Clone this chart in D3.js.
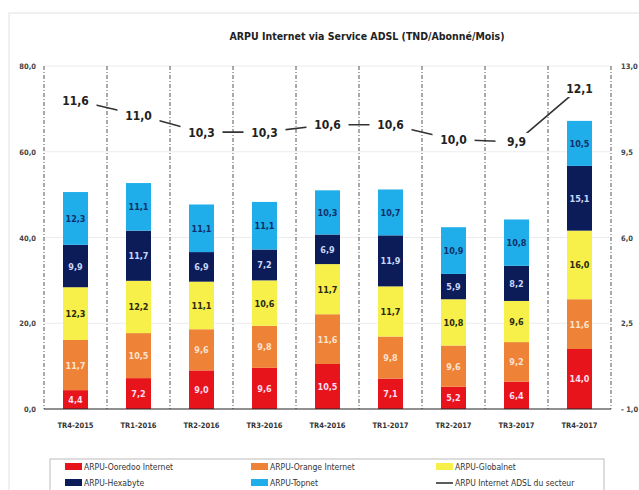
<!DOCTYPE html>
<html>
<head>
<meta charset="utf-8">
<script src="https://cdn.jsdelivr.net/npm/d3@7"></script>
<style>
  body { margin: 0; background: #fff; }
  svg text { font-family: "Liberation Sans Narrow", "DejaVu Sans Condensed", "Liberation Sans", sans-serif; }
</style>
</head>
<body>
<div id="chart"></div>
<script>
// Quarters
const quarters = ["TR4-2015", "TR1-2016", "TR2-2016", "TR3-2016", "TR4-2016",
  "TR1-2017", "TR2-2017", "TR3-2017", "TR4-2017"];

// Stacked series (bottom to top)
const ooredoo   = [4.4, 7.2, 9.0, 9.6, 10.5, 7.1, 5.2, 6.4, 14.0];
const orange    = [11.7, 10.5, 9.6, 9.8, 11.6, 9.8, 9.6, 9.2, 11.6];
const globalnet = [12.3, 12.2, 11.1, 10.6, 11.7, 11.7, 10.8, 9.6, 16.0];
const hexabyte  = [9.9, 11.7, 6.9, 7.2, 6.9, 11.9, 5.9, 8.2, 15.1];
const topnet    = [12.3, 11.1, 11.1, 11.1, 10.3, 10.7, 10.9, 10.8, 10.5];

// Line series (right axis)
const secteur = [11.6, 11.0, 10.3, 10.3, 10.6, 10.6, 10.0, 9.9, 12.1];

const leftTicks = [0, 20, 40, 60, 80];
const rightTicks = [-1, 2.5, 6, 9.5, 13];

const series = [
  { name: "ARPU-Ooredoo Internet", values: ooredoo, color: "#e8141b", text: "#fde" },
  { name: "ARPU-Orange Internet", values: orange, color: "#ee8236", text: "#fbe3d0" },
  { name: "ARPU-Globalnet", values: globalnet, color: "#f7ef4a", text: "#2a2a10" },
  { name: "ARPU-Hexabyte", values: hexabyte, color: "#0c1c58", text: "#c8d8f8" },
  { name: "ARPU-Topnet", values: topnet, color: "#1faeea", text: "#10306a" }
];

const fmt = v => d3.format(".1f")(v).replace(".", ",");

const W = 639, H = 490;
const svg = d3.select("#chart").append("svg")
  .attr("width", W).attr("height", H);

// chart frame
svg.append("rect")
  .attr("x", 9).attr("y", 13).attr("width", 640).attr("height", 490)
  .attr("fill", "none").attr("stroke", "#e2e2e2");

const plot = { left: 44, right: 611, top: 66, bottom: 409 };

const x = d3.scaleBand().domain(quarters).range([plot.left, plot.right]);
const y = d3.scaleLinear().domain([0, 80]).range([plot.bottom, plot.top]);
const y2 = d3.scaleLinear().domain([-1, 13]).range([plot.bottom, plot.top]);

// title
svg.append("text")
  .attr("x", 367).attr("y", 40)
  .attr("text-anchor", "middle")
  .attr("font-size", 10.5).attr("font-weight", "bold").attr("fill", "#222")
  .text("ARPU Internet via Service ADSL (TND/Abonné/Mois)");

// horizontal gridlines
svg.append("g").selectAll("line")
  .data(leftTicks.slice(1))
  .join("line")
  .attr("x1", plot.left).attr("x2", plot.right)
  .attr("y1", d => y(d)).attr("y2", d => y(d))
  .attr("stroke", "#ececec");

// dash-dot separators
const bounds = quarters.map(q => x(q)).concat([plot.right]);
svg.append("g").selectAll("line")
  .data(bounds)
  .join("line")
  .attr("x1", d => d).attr("x2", d => d)
  .attr("y1", plot.top).attr("y2", plot.bottom)
  .attr("stroke", "#555").attr("stroke-width", 1)
  .attr("stroke-dasharray", "4,2,1,2");

// left axis labels
svg.append("g").selectAll("text")
  .data(leftTicks)
  .join("text")
  .attr("x", 36).attr("y", d => y(d) + 3)
  .attr("text-anchor", "end")
  .attr("font-size", 7.5).attr("font-weight", "bold").attr("fill", "#444")
  .text(fmt);

// right axis labels
svg.append("g").selectAll("text")
  .data(rightTicks)
  .join("text")
  .attr("x", 621).attr("y", d => y2(d) + 3)
  .attr("font-size", 7.5).attr("font-weight", "bold").attr("fill", "#444")
  .text(d => d < 0 ? "- " + fmt(-d) : fmt(d));

// stacked bars
const table = quarters.map((q, i) => {
  const row = { q };
  series.forEach(s => { row[s.name] = s.values[i]; });
  return row;
});
const stack = d3.stack().keys(series.map(s => s.name))(table);

const barW = 25;
stack.forEach((layer, k) => {
  const s = series[k];
  const g = svg.append("g");
  g.selectAll("rect")
    .data(layer)
    .join("rect")
    .attr("x", d => x(d.data.q) + x.bandwidth() / 2 - barW / 2)
    .attr("y", d => y(d[1]))
    .attr("width", barW)
    .attr("height", d => y(d[0]) - y(d[1]))
    .attr("fill", s.color);
  g.selectAll("text")
    .data(layer)
    .join("text")
    .attr("x", d => x(d.data.q) + x.bandwidth() / 2)
    .attr("y", d => (y(d[0]) + y(d[1])) / 2 + 3.5)
    .attr("text-anchor", "middle")
    .attr("font-size", 9).attr("font-weight", "bold")
    .attr("fill", s.text)
    .text(d => fmt(d[1] - d[0]));
});

// bottom axis line
svg.append("line")
  .attr("x1", plot.left).attr("x2", plot.right)
  .attr("y1", plot.bottom).attr("y2", plot.bottom)
  .attr("stroke", "#222").attr("stroke-width", 1.2);

// x labels
svg.append("g").selectAll("text")
  .data(quarters)
  .join("text")
  .attr("x", d => x(d) + x.bandwidth() / 2)
  .attr("y", 428)
  .attr("text-anchor", "middle")
  .attr("font-size", 7.5).attr("font-weight", "bold").attr("fill", "#333")
  .text(d => d);

// line series
const line = d3.line()
  .x((d, i) => x(quarters[i]) + x.bandwidth() / 2)
  .y(d => y2(d));

svg.append("path")
  .datum(secteur)
  .attr("fill", "none")
  .attr("stroke", "#333")
  .attr("stroke-width", 1.6)
  .attr("d", line);

const lbl = svg.append("g").selectAll("g")
  .data(secteur)
  .join("g")
  .attr("transform", (d, i) => `translate(${x(quarters[i]) + x.bandwidth() / 2},${y2(d)})`);
lbl.append("rect")
  .attr("x", -21).attr("y", -9).attr("width", 42).attr("height", 18)
  .attr("fill", "#fff");
lbl.append("text")
  .attr("y", 4.5)
  .attr("text-anchor", "middle")
  .attr("font-size", 12).attr("font-weight", "bold").attr("fill", "#222")
  .text(fmt);

// legend
const legend = svg.append("g");
legend.append("rect")
  .attr("x", 50).attr("y", 459).attr("width", 554).attr("height", 40)
  .attr("fill", "#fff").attr("stroke", "#bbb");

const legendItems = [
  { s: series[0], col: 0, row: 0 },
  { s: series[1], col: 1, row: 0 },
  { s: series[2], col: 2, row: 0 },
  { s: series[3], col: 0, row: 1 },
  { s: series[4], col: 1, row: 1 }
];
const colX = [65, 251, 436];
const rowY = [467, 483];

legendItems.forEach(it => {
  legend.append("rect")
    .attr("x", colX[it.col]).attr("y", rowY[it.row] - 4)
    .attr("width", 17).attr("height", 7)
    .attr("fill", it.s.color);
  legend.append("text")
    .attr("x", colX[it.col] + 19).attr("y", rowY[it.row] + 3)
    .attr("font-size", 8.5).attr("fill", "#333")
    .text(it.s.name);
});
legend.append("line")
  .attr("x1", colX[2]).attr("x2", colX[2] + 17)
  .attr("y1", rowY[1]).attr("y2", rowY[1])
  .attr("stroke", "#333").attr("stroke-width", 1.6);
legend.append("text")
  .attr("x", colX[2] + 19).attr("y", rowY[1] + 3)
  .attr("font-size", 8.5).attr("fill", "#333")
  .text("ARPU Internet ADSL du secteur");
</script>
</body>
</html>
